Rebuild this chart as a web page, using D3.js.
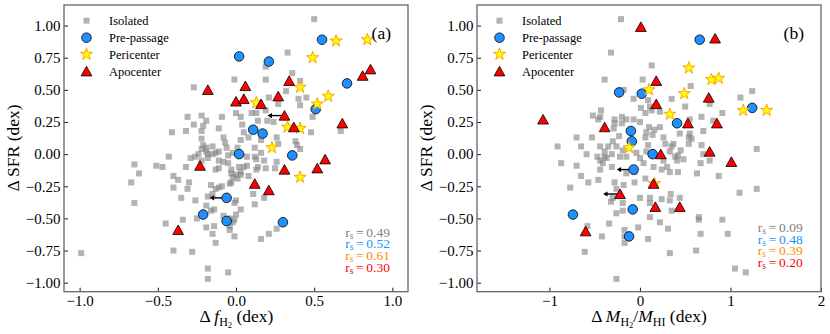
<!DOCTYPE html>
<html><head><meta charset="utf-8">
<script src="https://cdn.jsdelivr.net/npm/d3@7"></script>
<style>
body{margin:0;background:#fff;}
svg{display:block;}
text{font-family:"Liberation Serif","Times New Roman",serif;fill:#000;}
</style>
</head><body>
<svg id="chart" width="830" height="334"></svg>
<script>
// ---------------- DATA ----------------
const yTicks = [-1.00,-0.75,-0.50,-0.25,0.00,0.25,0.50,0.75,1.00];
const xTicksA = [-1.0,-0.5,0.0,0.5,1.0];
const xTicksB = [-1,0,1,2];
const legendLabels = ["Isolated","Pre-passage","Pericenter","Apocenter"];
const statsA = ["0.49","0.52","0.61","0.30"];
const statsB = ["0.09","0.48","0.39","0.20"];

// panel (a): x = Δ f_H2, y = Δ SFR
const isolatedA = [
[0.50,1.05],[0.33,0.79],[0.19,0.68],[-0.01,0.58],[0.19,0.58],[0.36,0.63],[0.41,0.57],[-0.27,0.52],
[0.45,0.44],[0.40,0.43],[0.41,0.38],[0.49,0.29],[0.21,0.44],[0.27,0.39],[0.32,0.49],
[-0.09,0.29],[-0.11,0.20],[-0.31,0.29],[-0.22,0.30],[-0.27,0.23],[-0.19,0.26],[-0.21,0.22],
[-0.41,0.17],[-0.32,0.18],[-0.22,0.18],[-0.22,0.12],[-0.21,0.07],[-0.19,0.05],[-0.19,0.02],
[-0.43,-0.02],[-0.29,-0.03],[-0.24,0.00],[-0.18,0.00],[-0.26,-0.02],[-0.18,-0.03],[-0.22,-0.05],
[-0.08,0.13],[-0.07,0.09],[-0.06,0.05],[0.00,0.32],[0.03,0.29],[0.04,0.23],[0.05,0.17],[0.03,0.11],[0.01,0.05],
[0.10,0.32],[0.13,0.32],[0.14,0.26],[0.08,0.13],[0.16,0.11],[0.19,0.34],[0.20,0.26],[0.24,0.25],
[0.26,0.13],[0.27,0.08],[0.38,0.10],[0.41,0.04],[0.12,0.05],[-0.15,0.06],[-0.13,0.01],[-0.11,-0.05],
[-0.08,-0.06],[-0.05,-0.01],[-0.02,0.01],[-0.05,-0.07],[0.07,-0.02],[0.07,-0.09],[0.13,-0.04],
[0.14,-0.10],[0.18,-0.05],[0.26,-0.06],[-0.51,-0.09],[-0.47,-0.10],[-0.32,-0.10],[0.67,0.18],
[0.48,0.17],[0.39,0.07],[-0.65,-0.08],[-0.62,-0.15],[-0.67,-0.22],[-0.40,-0.17],[-0.37,-0.20],
[-0.40,-0.26],[-0.30,-0.22],[-0.31,-0.27],[-0.35,-0.34],[-0.26,-0.36],[-0.65,-0.38],[-0.18,-0.33],
[-0.19,-0.40],[-0.25,-0.50],[-0.34,-0.51],[-0.45,-0.54],[-0.19,-0.57],[-0.40,-0.75],[-0.28,-0.76],
[-0.99,-0.77],[-0.18,-0.89],[-0.18,-0.97],[-0.13,-0.12],[-0.11,-0.11],[-0.03,-0.12],[0.02,-0.10],
[0.13,-0.12],[0.19,-0.11],[0.25,-0.11],[-0.16,-0.24],[-0.13,-0.27],[-0.11,-0.26],[-0.09,-0.25],
[-0.03,-0.22],[0.01,-0.19],[0.03,-0.16],[0.08,-0.17],[0.00,-0.16],[-0.03,-0.15],[0.11,-0.31],
[0.18,-0.34],[0.12,-0.39],[0.00,-0.36],[-0.01,-0.38],[0.03,-0.43],[-0.14,-0.43],[-0.16,-0.44],
[-0.14,-0.56],[-0.08,-0.48],[0.00,-0.47],[-0.01,-0.51],[-0.02,-0.53],[-0.04,-0.59],[-0.01,-0.64],
[-0.15,-0.62],[-0.13,-0.69],[0.16,-0.66],[0.21,-0.62],[0.26,-0.58],[-0.05,-0.92],[-0.15,0.00],
[-0.11,0.02],[0.12,-0.02],[0.16,0.01],[0.05,-0.10],[0.03,-0.14],[-0.02,-0.18],[-0.04,-0.23],
[-0.15,-0.31],[-0.04,-0.50],[-0.04,-0.56],[-0.22,0.04]
];
// [x, y, upperLimit]
const prepassageA = [
[0.02,0.76,0],[0.21,0.72,0],[0.55,0.89,0],[0.71,0.55,0],[0.51,0.35,0],[0.11,0.19,0],[0.17,0.16,0],
[0.02,0.00,0],[0.36,-0.01,0],[-0.06,-0.34,1],[-0.21,-0.47,0],[-0.06,-0.52,0],[0.30,-0.53,0]
];
const pericenterA = [
[0.64,0.88],[0.84,0.89],[0.49,0.75],[0.41,0.52],[0.59,0.45],[0.52,0.39],[0.13,0.40],
[0.33,0.21],[0.41,0.20],[0.23,0.05],[0.41,-0.18]
];
const apocenterA = [
[0.86,0.66,0],[0.81,0.61,0],[-0.18,0.50,0],[0.06,0.53,0],[0.34,0.57,0],[0.00,0.41,0],[0.05,0.43,0],
[0.16,0.39,0],[0.27,0.45,0],[0.31,0.30,1],[0.37,0.21,0],[0.68,0.24,0],[0.57,-0.04,0],[0.52,-0.11,0],
[0.31,-0.12,0],[0.12,-0.23,0],[0.21,-0.28,0],[-0.23,-0.09,0],[-0.37,-0.59,0]
];

// panel (b): x = Δ M_H2/M_HI, y = Δ SFR
const isolatedB = [
[-0.21,1.05],[-0.32,0.79],[-0.39,0.58],[-0.52,0.30],[-0.43,0.34],[-0.44,0.29],[-0.46,0.27],[-0.28,0.24],
[-0.20,0.29],[-0.29,0.20],[-0.70,0.13],[-0.53,0.13],[-0.91,0.06],[-0.65,0.06],[-0.59,0.00],[-0.44,0.06],
[-0.35,0.06],[-0.26,0.06],[-0.39,0.02],[-0.31,0.00],[-0.39,-0.02],[-0.87,-0.07],[-0.70,-0.09],[-0.65,-0.17],
[-0.77,-0.26],[-0.57,-0.22],[-0.46,-0.20],[-0.44,-0.12],[-0.41,-0.07],[-0.31,-0.10],[-0.37,-0.03],[-0.47,-0.02],
[-0.28,-0.22],[-0.32,-0.37],[-0.26,-0.46],[-0.34,-0.54],[-0.42,-0.64],[-0.58,-0.56],[-0.61,-0.76],[-0.26,-0.97],
[-0.17,-0.59],[-0.17,-0.64],[-0.19,-0.44],[-0.19,-0.38],[0.13,0.69],[0.03,0.58],[-0.18,0.50],[0.09,0.42],
[-0.07,0.43],[0.35,0.43],[0.50,0.37],[0.01,0.36],[0.06,0.32],[0.11,0.37],[0.22,0.33],[-0.28,0.27],
[-0.15,0.27],[-0.20,0.24],[-0.07,0.27],[0.00,0.25],[0.10,0.21],[0.16,0.19],[0.22,0.21],[0.26,0.13],
[0.37,0.08],[0.45,0.03],[0.41,-0.05],[0.26,-0.05],[0.14,0.15],[0.06,0.13],[0.07,0.17],[-0.23,0.14],
[-0.30,0.10],[-0.22,-0.02],[-0.19,0.03],[-0.44,-0.05],[0.00,-0.03],[0.04,-0.07],[0.30,-0.10],[0.35,0.06],
[0.48,-0.04],[0.54,0.08],[0.55,0.16],[0.56,0.53],[1.24,0.49],[1.11,0.44],[0.77,0.39],[0.91,0.32],
[0.13,0.34],[0.68,0.29],[0.81,0.26],[0.55,0.27],[0.70,0.18],[0.54,0.13],[0.57,0.12],[0.44,0.16],
[0.09,0.07],[0.28,0.08],[0.42,-0.01],[0.68,0.07],[0.70,0.00],[1.29,0.04],[-0.04,0.01],[0.07,0.02],
[-0.15,-0.02],[-0.15,-0.15],[-0.06,-0.14],[0.06,-0.19],[-0.06,-0.22],[-0.18,-0.24],[0.00,-0.34],[0.11,-0.34],
[0.24,-0.35],[0.34,-0.31],[0.33,-0.36],[0.35,-0.44],[0.11,-0.49],[0.22,-0.53],[0.31,-0.58],[-0.02,-0.57],
[0.09,-0.66],[0.33,-0.77],[0.62,-0.75],[0.65,-0.49],[0.65,-0.51],[0.67,-0.62],[0.63,-0.15],[0.67,-0.07],
[0.77,-0.05],[0.87,-0.17],[0.91,-0.51],[0.97,-0.62],[1.10,-0.30],[1.29,-0.27],[1.05,-0.89],[1.17,-0.92],
[0.33,-0.14],[0.42,-0.14],[0.15,-0.10],[0.39,-0.02],[0.33,0.02],[-0.26,-0.27],[-0.30,-0.34],[-0.17,-0.69],
[0.24,-0.12],[0.44,-0.34],[0.11,-0.38]
];
const prepassageB = [
[0.66,0.89,0],[-0.23,0.48,0],[0.02,0.47,0],[1.24,0.36,0],[0.41,0.24,0],[-0.10,0.18,0],[-0.09,0.10,0],
[0.14,0.00,0],[-0.07,-0.12,1],[-0.08,-0.43,0],[-0.74,-0.47,0],[-0.12,-0.64,0]
];
const pericenterB = [
[0.54,0.67],[0.79,0.58],[0.87,0.59],[0.10,0.50],[0.49,0.47],[1.14,0.34],[1.40,0.34],
[0.33,0.31],[-0.12,0.05],[0.16,-0.23]
];
const apocenterB = [
[0.01,0.99,0],[0.83,0.90,0],[0.18,0.57,0],[0.18,0.39,0],[0.76,0.44,0],[0.53,0.24,0],[0.85,0.24,0],
[0.23,0.00,0],[0.77,0.02,0],[1.01,-0.06,0],[0.15,-0.23,0],[-0.22,-0.31,1],[0.17,-0.41,0],[0.44,-0.41,0],
[-0.60,-0.60,0],[-1.07,0.27,0],[-0.39,0.21,0]
];

// ---------------- STYLE ----------------
const C = {iso:"#808080", pre:"#1e90ff", periFill:"#ffff00", periEdge:"#ffa500", apo:"#ff0000"};
const statColors = ["#808080","#1e90ff","#ff8c00","#ff0000"];
const yDomain = [-1.07, 1.16];
const TOP = 5, BOTTOM = 291.7;

const svg = d3.select("#chart");
const starPath = d3.symbol(d3.symbolStar, 46)();
const triPath = "M0,-5L5.4,4.6L-5.4,4.6Z";

function drawIso(g, pts){
  g.selectAll(null).data(pts).join("rect")
    .attr("x", d=>d[0]-3).attr("y", d=>d[1]-3).attr("width",6).attr("height",6)
    .attr("fill", C.iso).attr("fill-opacity",0.6);
}
function drawCircle(g, pts){
  g.selectAll(null).data(pts).join("circle")
    .attr("cx", d=>d[0]).attr("cy", d=>d[1]).attr("r",4.8)
    .attr("fill", C.pre).attr("stroke","#000").attr("stroke-width",0.8);
}
function drawStar(g, pts){
  g.selectAll(null).data(pts).join("path")
    .attr("d", starPath).attr("transform", d=>`translate(${d[0]},${d[1]})`)
    .attr("fill", C.periFill).attr("stroke", C.periEdge).attr("stroke-width",1);
}
function drawTri(g, pts){
  g.selectAll(null).data(pts).join("path")
    .attr("d", triPath).attr("transform", d=>`translate(${d[0]},${d[1]})`)
    .attr("fill", C.apo).attr("stroke","#000").attr("stroke-width",0.8);
}
function drawArrows(g, pts){
  const L = 17;
  g.selectAll(null).data(pts).join("line")
    .attr("x1", d=>d[0]).attr("y1", d=>d[1]).attr("x2", d=>d[0]-L+3).attr("y2", d=>d[1])
    .attr("stroke","#000").attr("stroke-width",1.4);
  g.selectAll(null).data(pts).join("path")
    .attr("d", d=>`M${d[0]-L},${d[1]}L${d[0]-L+4.5},${d[1]-2.6}L${d[0]-L+4.5},${d[1]+2.6}Z`)
    .attr("fill","#000");
}

function panel(o){
  const g = svg.append("g");
  const x = d3.scaleLinear().domain(o.xDomain).range([o.left, o.right]);
  const y = d3.scaleLinear().domain(yDomain).range([BOTTOM, TOP]);
  const P = d => [x(d[0]), y(d[1])];

  // axes (inward ticks)
  const xa = g.append("g").attr("transform",`translate(0,${BOTTOM})`)
    .call(d3.axisBottom(x).tickValues(o.xTicks).tickFormat(o.xFmt).tickSize(-4).tickPadding(4));
  const ya = g.append("g").attr("transform",`translate(${o.left},0)`)
    .call(d3.axisLeft(y).tickValues(yTicks).tickFormat(d3.format(".2f")).tickSize(-4).tickPadding(3.5));
  [xa, ya].forEach(a=>{
    a.select(".domain").remove();
    a.attr("font-family",null).attr("font-size",null);
    a.selectAll(".tick line").attr("stroke","#000").attr("stroke-width",0.9);
    a.selectAll(".tick text").style("font-size","15px").attr("fill","#000");
  });

  // data
  const m = g.append("g");
  drawIso(m, o.iso.map(P));
  drawArrows(m, o.pre.filter(d=>d[2]).map(P));
  drawCircle(m, o.pre.map(P));
  drawStar(m, o.peri.map(P));
  drawArrows(m, o.apo.filter(d=>d[2]).map(P));
  drawTri(m, o.apo.map(P));

  // frame
  g.append("rect").attr("x",o.left).attr("y",TOP).attr("width",o.right-o.left).attr("height",BOTTOM-TOP)
    .attr("fill","none").attr("stroke","#666").attr("stroke-width",1.3);

  // legend
  const rows = [20.7, 37.7, 54.3, 71.3];
  const lx = o.left + 22.5;
  const lg = g.append("g");
  drawIso(lg, [[lx, rows[0]]]);
  drawCircle(lg, [[lx, rows[1]]]);
  drawStar(lg, [[lx, rows[2]]]);
  drawTri(lg, [[lx, rows[3]]]);
  lg.selectAll("text.leg").data(legendLabels).join("text").attr("class","leg")
    .attr("x", lx + 22.5).attr("y", (d,i)=>rows[i]).attr("dy","0.35em")
    .style("font-size","12.5px").text(d=>d);

  // panel tag
  g.append("text").attr("x", o.tagX).attr("y", 38.5).attr("text-anchor","end")
    .style("font-size","17.5px").text(o.tag);

  // spearman stats
  o.stats.forEach((s,i)=>{
    const t = g.append("text").attr("x", o.statX).attr("y", o.statY[i]).attr("text-anchor","end")
      .style("font-size","13.5px").attr("fill", statColors[i]).style("fill", statColors[i]);
    t.append("tspan").text("r");
    t.append("tspan").attr("font-size","9.5px").attr("dy",2.2).text("s");
    t.append("tspan").attr("dy",-2.2).text("\u2009=\u2009" + s);
  });

  // y label
  g.append("text").attr("transform",`translate(${o.left-45.5},148) rotate(-90)`)
    .attr("text-anchor","middle").style("font-size","17.5px").text("\u0394 SFR (dex)");
  return g;
}

const ga = panel({
  xDomain:[-1.1,1.1], left:64, right:408, xTicks:xTicksA, xFmt:d3.format(".1f"),
  iso:isolatedA, pre:prepassageA, peri:pericenterA, apo:apocenterA,
  tag:"(a)", tagX:391, stats:statsA, statX:390, statY:[236.5,248.2,259.9,271.6]
});
const gb = panel({
  xDomain:[-1.8,2.0], left:477, right:821, xTicks:xTicksB, xFmt:d3.format("d"),
  iso:isolatedB, pre:prepassageB, peri:pericenterB, apo:apocenterB,
  tag:"(b)", tagX:804, stats:statsB, statX:802.7, statY:[232,243.5,255,266.5]
});

// x labels
const ta = ga.append("text").attr("x",236.5).attr("y",322).attr("text-anchor","middle").style("font-size","17.5px");
ta.append("tspan").text("\u0394 ");
ta.append("tspan").attr("font-style","italic").text("f");
ta.append("tspan").attr("font-size","12px").attr("dy",4).text("H");
ta.append("tspan").attr("font-size","8.5px").attr("dy",2).text("2");
ta.append("tspan").attr("dy",-6).text(" (dex)");

const tb = gb.append("text").attr("x",649).attr("y",322).attr("text-anchor","middle").style("font-size","17.5px");
tb.append("tspan").text("\u0394 ");
tb.append("tspan").attr("font-style","italic").text("M");
tb.append("tspan").attr("font-size","12px").attr("dy",4).text("H");
tb.append("tspan").attr("font-size","8.5px").attr("dy",2).text("2");
tb.append("tspan").attr("dy",-6).text("/");
tb.append("tspan").attr("font-style","italic").text("M");
tb.append("tspan").attr("font-size","12px").attr("dy",4).text("HI");
tb.append("tspan").attr("dy",-4).text(" (dex)");
</script>
</body></html>
